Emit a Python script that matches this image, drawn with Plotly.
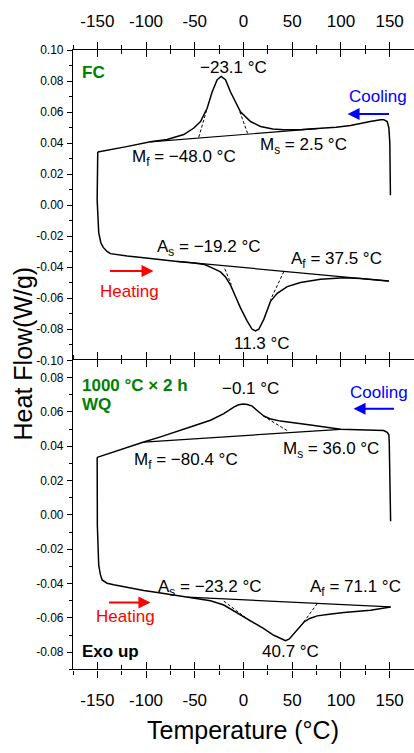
import plotly.graph_objects as go

# ---------------- data ----------------
# FC sample (top panel)
fc_cool_x = [150.8, 150.6, 150.2, 149.2, 147.5, 144, 140.7, 130, 120, 109.9, 95, 75.7, 60, 41.4, 30, 17.5, 7.2,
             -3.1, -8, -13.3, -18.5, -22.9, -27, -32.2, -37.3, -44.1, -51, -61.3, -78.4, -95.5, -120, -149.6]
fc_cool_y = [0.0065, 0.020, 0.040, 0.050, 0.054, 0.0552, 0.0551, 0.0540, 0.0528, 0.0515, 0.0503, 0.0494, 0.0488,
             0.0487, 0.0492, 0.0508, 0.0540, 0.0603, 0.0660, 0.0730, 0.0810, 0.0831, 0.0810, 0.0730, 0.0625,
             0.0540, 0.0498, 0.0456, 0.0424, 0.0409, 0.0378, 0.0344]
fc_heat_x = [-149.6, -150.3, -150.2, -148.6, -146.5, -144, -140, -136.6, -128, -119.4, -100, -85.2, -68, -51, -40,
             -33.9, -27, -23.6, -18.5, -13.3, -8.2, -3.1, 3.8, 8.9, 12.3, 15.7, 20.8, 27.7, 34.6, 44.9, 58.5,
             79.1, 103, 120.1, 149.2]
fc_heat_y = [0.0344, 0.015, 0.0034, -0.0177, -0.024, -0.0272, -0.0298, -0.0312, -0.0322, -0.0328, -0.0340,
             -0.0352, -0.0362, -0.0372, -0.0382, -0.0399, -0.0418, -0.0430, -0.0462, -0.0515, -0.0589, -0.0662,
             -0.0747, -0.0800, -0.0810, -0.0800, -0.0736, -0.0620, -0.0568, -0.0525, -0.0498, -0.0477, -0.0468,
             -0.0473, -0.0489]
fc_cool_base_x = [-95.5, 75.7]
fc_cool_base_y = [0.0409, 0.0494]
fc_heat_base_x = [-68, 149.2]
fc_heat_base_y = [-0.0362, -0.0489]
fc_dash_x = [[-45.9, -37.3], [-3.8, 4.4], [-19.2, -12.6], [41.4, 27.7]]
fc_dash_y = [[0.0439, 0.0625], [0.0603, 0.0460], [-0.0410, -0.0511], [-0.0428, -0.0610]]

# 1000 °C x 2 h WQ sample (bottom panel)
wq_cool_x = [151, 150.8, 150.3, 149.6, 149.2, 147.5, 144, 127, 99.6, 68.8, 38, 27, 20.8, 14, 8.9, 4, -0.3, -5,
             -10, -20.2, -33.9, -50, -68, -85.2, -102.4, -125, -150.2]
wq_cool_y = [-0.0037, 0.010, 0.030, 0.042, 0.0466, 0.0480, 0.0491, 0.0494, 0.0498, 0.0523, 0.0546, 0.0560,
             0.0576, 0.0608, 0.0633, 0.0643, 0.0646, 0.0641, 0.0627, 0.0589, 0.0551, 0.0520, 0.0485, 0.0454,
             0.0424, 0.0382, 0.0335]
wq_heat_x = [-150.2, -150.3, -150.0, -148.6, -147, -145.1, -140, -133.2, -116, -102.4, -85, -70, -57.8, -45,
             -33.9, -20.2, -6.5, 2, 10.6, 20, 31.1, 38, 43.1, 47, 51.6, 56, 61.9, 68, 75.7, 88, 103, 130.4, 151]
wq_heat_y = [0.0335, 0.010, -0.0065, -0.0293, -0.0345, -0.0379, -0.0398, -0.0407, -0.0426, -0.0440, -0.0455,
             -0.0467, -0.0479, -0.0489, -0.0500, -0.0525, -0.0570, -0.0598, -0.0625, -0.0660, -0.0701, -0.0722,
             -0.0733, -0.0722, -0.0692, -0.0660, -0.0625, -0.0603, -0.0588, -0.0578, -0.0568, -0.0555, -0.0536]
wq_cool_base_x = [-102.4, 99.6]
wq_cool_base_y = [0.0424, 0.0498]
wq_heat_base_x = [-57.8, 151]
wq_heat_base_y = [-0.0479, -0.0536]
wq_dash_x = [[20.2, 46.5], [-20.2, 7.2], [75.7, 60.3]]
wq_dash_y = [[0.0576, 0.0485], [-0.0502, -0.0620], [-0.0517, -0.0635]]

x_tick_vals = [-150, -100, -50, 0, 50, 100, 150]
x_tick_text = ["-150", "-100", "-50", "0", "50", "100", "150"]
fc_y_tick_vals = [-0.10, -0.08, -0.06, -0.04, -0.02, 0.00, 0.02, 0.04, 0.06, 0.08, 0.10]
fc_y_tick_text = ["-0.10", "-0.08", "-0.06", "-0.04", "-0.02", "0.00", "0.02", "0.04", "0.06", "0.08", "0.10"]
wq_y_tick_vals = [-0.08, -0.06, -0.04, -0.02, 0.00, 0.02, 0.04, 0.06, 0.08]
wq_y_tick_text = ["-0.08", "-0.06", "-0.04", "-0.02", "0.00", "0.02", "0.04", "0.06", "0.08"]

FONT = "Liberation Sans, Arial, sans-serif"
fig = go.Figure()

def line(x, y, xa, ya, w=1.5, dash=None):
    fig.add_trace(go.Scatter(x=x, y=y, mode="lines", xaxis=xa, yaxis=ya, showlegend=False,
                             hoverinfo="skip", line=dict(color="black", width=w, dash=dash)))

# top panel (FC)
line(fc_cool_x, fc_cool_y, "x2", "y2")
line(fc_heat_x, fc_heat_y, "x2", "y2")
line(fc_cool_base_x, fc_cool_base_y, "x2", "y2", 1.2)
line(fc_heat_base_x, fc_heat_base_y, "x2", "y2", 1.2)
for dx, dy in zip(fc_dash_x, fc_dash_y):
    line(dx, dy, "x2", "y2", 1, "3px,2px")
# bottom panel (WQ)
line(wq_cool_x, wq_cool_y, "x", "y")
line(wq_heat_x, wq_heat_y, "x", "y")
line(wq_cool_base_x, wq_cool_base_y, "x", "y", 1.2)
line(wq_heat_base_x, wq_heat_base_y, "x", "y", 1.2)
for dx, dy in zip(wq_dash_x, wq_dash_y):
    line(dx, dy, "x", "y", 1, "3px,2px")
# dummy traces so the overlay axes are drawn
fig.add_trace(go.Scatter(x=[None], y=[None], xaxis="x3", yaxis="y", showlegend=False))
fig.add_trace(go.Scatter(x=[None], y=[None], xaxis="x4", yaxis="y2", showlegend=False))

XDOM = [73 / 414, 1.0]
TOP_DOM = [(753 - 360) / 753, (753 - 44) / 753]
BOT_DOM = [(753 - 675) / 753, (753 - 360) / 753]
XR = [-175, 175]

def xax(side, ticks, labels, mirror=False, anchor="y", overlay=None):
    d = dict(range=XR, domain=XDOM, anchor=anchor, side=side, showline=True, linecolor="black",
             linewidth=1.2, ticks=ticks, ticklen=7, tickwidth=1.2, tickcolor="black",
             tickmode="array", tickvals=x_tick_vals, ticktext=x_tick_text,
             showticklabels=labels, tickfont=dict(family=FONT, size=17, color="black"),
             showgrid=False, zeroline=False, fixedrange=True,
             minor=dict(ticks=ticks, ticklen=4, tickwidth=1, tickcolor="black",
                        tickmode="linear", tick0=0, dtick=25, showgrid=False))
    if labels:
        d["ticklabelstandoff"] = 8
    if mirror:
        d["mirror"] = "ticks"
    if overlay:
        d["overlaying"] = overlay
    return d

def yax(rng, dom, vals, text, anchor):
    return dict(range=rng, domain=dom, anchor=anchor, showline=True, linecolor="black", linewidth=1.2,
                ticks="outside", ticklen=5, tickwidth=1.1, tickcolor="black",
                tickmode="array", tickvals=vals, ticktext=text, ticklabelstandoff=1,
                tickfont=dict(family=FONT, size=12, color="black"),
                showgrid=False, zeroline=False, fixedrange=True,
                minor=dict(ticks="outside", ticklen=3, tickwidth=1, tickcolor="black",
                           tickmode="linear", tick0=0, dtick=0.01, showgrid=False))

fig.update_layout(
    width=414, height=753, margin=dict(l=0, r=0, t=0, b=0),
    paper_bgcolor="white", plot_bgcolor="white", showlegend=False,
    font=dict(family=FONT, color="black"),
    xaxis=xax("bottom", "outside", True, mirror=True, anchor="y"),
    xaxis3=xax("bottom", "inside", False, mirror=True, anchor="y", overlay="x"),
    xaxis2=xax("top", "outside", True, anchor="y2"),
    xaxis4=xax("top", "inside", False, anchor="y2", overlay="x2"),
    yaxis=yax([-0.09, 0.09], BOT_DOM, wq_y_tick_vals, wq_y_tick_text, "x"),
    yaxis2=yax([-0.10, 0.10], TOP_DOM, fc_y_tick_vals, fc_y_tick_text, "x2"),
)

ann = []
def txt(x, y, s, xa, ya, size=17, color="black", bold=False, xanchor="center"):
    ann.append(dict(x=x, y=y, xref=xa, yref=ya, text=("<b>%s</b>" % s) if bold else s, showarrow=False,
                    xanchor=xanchor, yanchor="middle",
                    font=dict(family=FONT, size=size, color=color)))

def arrow(x0, x1, y, xa, ya, color):
    ann.append(dict(x=x1, y=y, ax=x0, ay=y, xref=xa, yref=ya, axref=xa, ayref=ya, text="",
                    showarrow=True, arrowhead=2, arrowsize=1.2, arrowwidth=2, arrowcolor=color))

# top panel labels
txt(-10.3, 0.0886, "−23.1 °C", "x2", "y2")
txt(-60.6, 0.0305, "M<sub>f</sub> = −48.0 °C", "x2", "y2")
txt(61.6, 0.0385, "M<sub>s</sub> = 2.5 °C", "x2", "y2")
txt(137.6, 0.0703, "Cooling", "x2", "y2", color="blue")
arrow(150.9, 106.8, 0.0589, "x2", "y2", "blue")
txt(-36.4, -0.0275, "A<sub>s</sub> = −19.2 °C", "x2", "y2")
txt(95, -0.0350, "A<sub>f</sub> = 37.5 °C", "x2", "y2")
txt(18.5, -0.0892, "11.3 °C", "x2", "y2")
txt(-117, -0.0557, "Heating", "x2", "y2", color="red")
arrow(-138.6, -92.4, -0.0424, "x2", "y2", "red")
txt(-167.5, 0.0854, "FC", "x2", "y2", color="green", bold=True, xanchor="left")

# bottom panel labels
txt(7.2, 0.0737, "−0.1 °C", "x", "y")
txt(138.6, 0.0715, "Cooling", "x", "y", color="blue")
arrow(156, 113, 0.0618, "x", "y", "blue")
txt(-59, 0.0312, "M<sub>f</sub> = −80.4 °C", "x", "y")
txt(89.3, 0.0375, "M<sub>s</sub> = 36.0 °C", "x", "y")
txt(-167.4, 0.0755, "1000 °C × 2 h", "x", "y", color="green", bold=True, xanchor="left")
txt(-167.4, 0.0640, "WQ", "x", "y", color="green", bold=True, xanchor="left")
txt(-34.4, -0.0428, "A<sub>s</sub> = −23.2 °C", "x", "y")
txt(115, -0.0428, "A<sub>f</sub> = 71.1 °C", "x", "y")
txt(-121, -0.0589, "Heating", "x", "y", color="red")
arrow(-139.6, -95.5, -0.0510, "x", "y", "red")
txt(48.3, -0.0794, "40.7 °C", "x", "y")
txt(-167.4, -0.0794, "Exo up", "x", "y", bold=True, xanchor="left")

# axis titles
ann.append(dict(x=243.5 / 414, y=(753 - 737) / 753, xref="paper", yref="paper", text="Temperature (°C)",
                showarrow=False, xanchor="center", yanchor="middle",
                font=dict(family=FONT, size=25, color="black")))
ann.append(dict(x=23 / 414, y=(753 - 353) / 753, xref="paper", yref="paper", text="Heat Flow(W/g)",
                showarrow=False, xanchor="center", yanchor="middle", textangle=-90,
                font=dict(family=FONT, size=25, color="black")))
fig.update_layout(annotations=ann)

fig.write_html("out.html")
